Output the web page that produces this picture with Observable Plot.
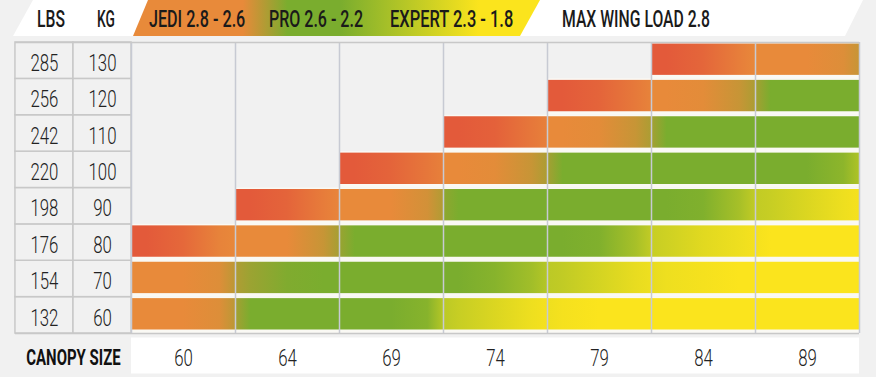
<!DOCTYPE html>
<html>
<head>
<meta charset="utf-8">
<script src="https://cdn.jsdelivr.net/npm/d3@7"></script>
<script src="https://cdn.jsdelivr.net/npm/@observablehq/plot@0.6"></script>
<style>
  html, body { margin: 0; padding: 0; background: #f1f1f1; }
  body { width: 876px; height: 377px; overflow: hidden; font-family: Roboto, "Noto Sans", sans-serif; }
  #legend { position: relative; width: 876px; height: 40px; }
  .shape { position: absolute; top: 0; height: 36px; }
  .whiteband { left: 13px; width: 850px; background: #fff;
    clip-path: polygon(20px 0, 100% 0, calc(100% - 18px) 100%, 0 100%); }
  .zoneband { left: 133px; width: 407px;
    clip-path: polygon(15px 0, 100% 0, calc(100% - 20px) 100%, 0 100%); }
  .lab { position: absolute; top: 2px; line-height: 36px; font-size: 23px; font-weight: 500;
    color: #1a1a1a; white-space: nowrap; transform-origin: 0 50%; }
  #chart svg { display: block; }
</style>
</head>
<body>
<div id="legend"></div>
<div id="chart"></div>
<script>
// ---------- data ----------
const kg = [60, 70, 80, 90, 100, 110, 120, 130];
const lbs = [132, 154, 176, 198, 220, 242, 256, 285];
const canopySizes = [60, 64, 69, 74, 79, 84, 89];
const rowHeads = ["LBS", "KG"];
const axisTitle = "CANOPY SIZE";
const zoneLabels = ["JEDI 2.8 - 2.6", "PRO 2.6 - 2.2", "EXPERT 2.3 - 1.8"];
const maxLabel = "MAX WING LOAD 2.8";

// zone read across each cell, left -> right (5 samples):
// 0 = red (over max), 1 = orange (JEDI), 2 = green (PRO), 3 = yellow (EXPERT); null = no fill
const zones60  = [[1,1,1,1.1,1.4],[1.6,2,2,2,2],[2,2,2,2.1,2.45],[2.5,2.6,2.75,2.9,2.95],[2.9,2.95,3,3,3],[3,3,3,3,3],[3,3,3,3,3]];
const zones70  = [[1,1,1,1.1,1.4],[1.5,1.7,1.95,2,2],[2,2,2,2,2],[2,2,2.1,2.3,2.45],[2.5,2.55,2.7,2.85,2.9],[2.85,2.9,2.95,3,3],[3,3,3,3,3]];
const zones80  = [[0,0,0.3,0.85,0.95],[1,1,1,1.3,1.6],[1.7,2,2,2,2],[2,2,2,2,2],[2,2,2.05,2.35,2.55],[2.6,2.65,2.8,2.9,2.95],[2.95,3,3,3,3]];
const zones90  = [null,[0,0,0.2,0.7,0.9],[1,1,1,1.2,1.5],[1.8,2,2,2,2],[2,2,2,2,2],[2,2,2.05,2.35,2.55],[2.55,2.6,2.75,2.9,2.95]];
const zones100 = [null,null,[0,0,0.2,0.6,0.8],[1,1,1.05,1.3,1.55],[1.6,2,2,2,2],[2,2,2,2,2],[2,2,2,2.15,2.4]];
const zones110 = [null,null,null,[0,0,0.15,0.6,0.8],[1,1,1.05,1.3,1.55],[1.6,2,2,2,2],[2,2,2,2,2]];
const zones120 = [null,null,null,null,[0,0,0.2,0.65,0.85],[1,1,1.05,1.3,1.55],[1.6,2,2,2,2]];
const zones130 = [null,null,null,null,null,[0,0,0.25,0.75,0.95],[1,1,1,1.1,1.3]];
const zoneRows = [zones60, zones70, zones80, zones90, zones100, zones110, zones120, zones130];

// ---------- styles ----------
const zoneColors = ["#e35a3a", "#e88a3a", "#7aad2e", "#fbe41d"];
const sampleOffsets = [0, 0.15, 0.5, 0.85, 1];
const zoneColor = d3.scaleLinear().domain([0, 1, 2, 3]).range(zoneColors).interpolate(d3.interpolateRgb).clamp(true);
const labelW = 0.558; // width of one label column, in canopy-column units

// ---------- header legend (HTML) ----------
const legend = d3.select("#legend");
legend.append("div").attr("class", "shape whiteband");
legend.append("div").attr("class", "shape zoneband")
  .style("background", `linear-gradient(90deg, ${zoneColors[1]} 0%, ${zoneColors[1]} 27%, ${zoneColors[2]} 38%, ${zoneColors[2]} 51%, ${zoneColors[3]} 85%, ${zoneColors[3]} 100%)`);
const headItems = [
  {text: rowHeads[0], left: 37, w: 28}, {text: rowHeads[1], left: 97, w: 18},
  {text: zoneLabels[0], left: 149, w: 96}, {text: zoneLabels[1], left: 269, w: 94},
  {text: zoneLabels[2], left: 390, w: 123}, {text: maxLabel, left: 562, w: 148}
];
legend.selectAll("span.lab").data(headItems).join("span").attr("class", "lab")
  .style("left", d => d.left + "px").text(d => d.text)
  .each(function(d) { this.style.transform = `scaleX(${(d.w / this.offsetWidth).toFixed(3)})`; });

// ---------- table (Plot) ----------
const cells = [];
zoneRows.forEach((row, r) => row.forEach((z, c) => {
  if (z) cells.push({r, c, kg: kg[r], size: canopySizes[c], zones: z});
}));
const labelCells = [];
kg.forEach((k, i) => {
  labelCells.push({x1: -2 * labelW, x2: -labelW, y1: i, y2: i + 1});
  labelCells.push({x1: -labelW, x2: 0, y1: i, y2: i + 1});
});
const gid = d => `wl-${d.kg}-${d.size}`;
const numStyle = {fontSize: 24, fontWeight: 300, fill: "#222"};

const svg = Plot.plot({
  width: 876, height: 337,
  marginTop: 2, marginBottom: 44, marginLeft: 131, marginRight: 17,
  x: {domain: [0, 7], axis: null},
  y: {domain: [0, 8], axis: null},
  color: {type: "identity"},
  style: {background: "transparent", fontFamily: "Roboto, 'Noto Sans', sans-serif", overflow: "visible"},
  marks: [
    Plot.ruleY([0], {x1: 0, x2: 7, stroke: "#ffffff", strokeWidth: 36, dy: 22}),
    Plot.rect(labelCells, {x1: "x1", x2: "x2", y1: "y1", y2: "y2", fill: "#f1f1f1", stroke: "#c8c8c8", strokeWidth: 1.5}),
    Plot.rect(cells, {x1: d => d.c, x2: d => d.c + 1, y1: d => d.r, y2: d => d.r + 1, fill: "#faf9f4"}),
    Plot.rect(cells, {x1: d => d.c, x2: d => d.c + 1, y1: d => d.r, y2: d => d.r + 1,
      fill: d => `url(#${gid(d)})`, insetTop: 1.5, insetBottom: 3.5}),
    Plot.ruleX(d3.range(canopySizes.length + 1), {y1: 0, y2: kg.length, stroke: "#c7cad3", strokeWidth: 1.5}),
    Plot.ruleY([0, kg.length], {x1: -2 * labelW, x2: canopySizes.length, stroke: "#c8c8c8", strokeWidth: 1.5}),
    Plot.text(lbs, {x: () => -1.5 * labelW, y: (d, i) => i + 0.5, text: d => String(d), dy: 2.5, ...numStyle}),
    Plot.text(kg, {x: () => -0.5 * labelW, y: (d, i) => i + 0.5, text: d => String(d), dy: 2.5, ...numStyle}),
    Plot.text(canopySizes, {x: (d, i) => i + 0.5, frameAnchor: "bottom", lineAnchor: "middle", dy: 25,
      text: d => String(d), ...numStyle}),
    Plot.text([axisTitle], {x: () => -labelW, frameAnchor: "bottom", lineAnchor: "middle", dy: 24, text: d => d,
      fontSize: 22, fontWeight: "bold", fill: "#111"})
  ]
});

// gradients for each filled cell
const ns = "http://www.w3.org/2000/svg";
const defs = document.createElementNS(ns, "defs");
cells.forEach(d => {
  const lg = document.createElementNS(ns, "linearGradient");
  lg.setAttribute("id", gid(d));
  lg.setAttribute("x1", "0"); lg.setAttribute("x2", "1");
  lg.setAttribute("y1", "0"); lg.setAttribute("y2", "0");
  d.zones.forEach((z, i) => {
    const s = document.createElementNS(ns, "stop");
    s.setAttribute("offset", sampleOffsets[i]);
    s.setAttribute("stop-color", zoneColor(z));
    lg.appendChild(s);
  });
  defs.appendChild(lg);
});
svg.insertBefore(defs, svg.firstChild);
document.getElementById("chart").append(svg);

// condensed look: squeeze glyphs horizontally
svg.querySelectorAll("text").forEach(t => {
  const k = t.textContent === axisTitle ? 0.68 : 0.7;
  const w = t.getComputedTextLength();
  t.setAttribute("textLength", (w * k).toFixed(2));
  t.setAttribute("lengthAdjust", "spacingAndGlyphs");
});
</script>
</body>
</html>
